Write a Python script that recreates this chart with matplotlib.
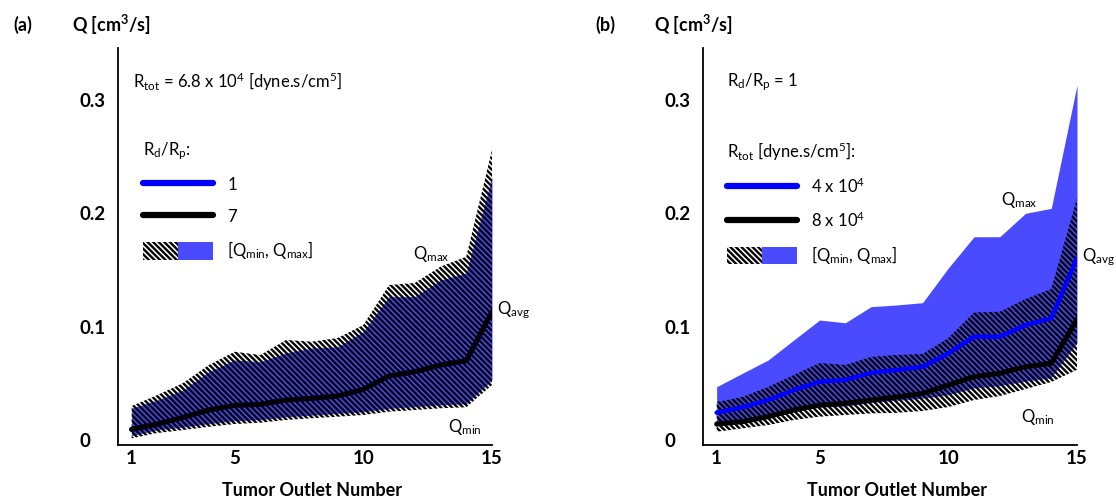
import matplotlib
matplotlib.use("Agg")
import matplotlib.pyplot as plt
from matplotlib.lines import Line2D
from matplotlib.patches import Patch
from matplotlib.legend_handler import HandlerTuple

plt.rcParams['font.family'] = ['Lato', 'DejaVu Sans']
plt.rcParams['mathtext.default'] = 'regular'
plt.rcParams['hatch.linewidth'] = 1.7

# ---------------- data ----------------
outlets = list(range(1, 16))
x_ticks = [1, 5, 10, 15]
y_ticks = [0, 0.1, 0.2, 0.3]
y_ticklabels = ['0', '0.1', '0.2', '0.3']

# panel (a): Rtot = 6.8e4, Rd/Rp = 1 (blue) and 7 (black, hatched)
a_avg = [0.0094, 0.0141, 0.0200, 0.0265, 0.0306, 0.0315, 0.0353, 0.0368,
         0.0388, 0.0447, 0.0565, 0.0603, 0.0662, 0.0700, 0.1132]
a_r1_max = [0.0282, 0.0353, 0.0441, 0.0603, 0.0706, 0.0691, 0.0768, 0.0812,
            0.0823, 0.0956, 0.1265, 0.1265, 0.1412, 0.1474, 0.2324]
a_r1_min = [0.0040, 0.0090, 0.0115, 0.0145, 0.0170, 0.0180, 0.0205, 0.0220,
            0.0235, 0.0250, 0.0280, 0.0295, 0.0310, 0.0320, 0.0530]
a_r7_max = [0.0300, 0.0397, 0.0503, 0.0662, 0.0779, 0.0750, 0.0883, 0.0868,
            0.0900, 0.1015, 0.1368, 0.1386, 0.1530, 0.1618, 0.2560]
a_r7_min = [0.0015, 0.0062, 0.0088, 0.0117, 0.0141, 0.0153, 0.0177, 0.0192,
            0.0206, 0.0221, 0.0250, 0.0265, 0.0280, 0.0289, 0.0485]

# panel (b): Rd/Rp = 1, Rtot = 4e4 (blue) and 8e4 (black, hatched)
b_avg4 = [0.0241, 0.0289, 0.0353, 0.0441, 0.0515, 0.0530, 0.0594, 0.0618,
          0.0647, 0.0765, 0.0912, 0.0912, 0.1015, 0.1074, 0.1606]
b_max4 = [0.0470, 0.0589, 0.0706, 0.0883, 0.1059, 0.1035, 0.1177, 0.1192,
          0.1212, 0.1518, 0.1794, 0.1794, 0.2001, 0.2045, 0.3133]
b_min4 = [0.0150, 0.0180, 0.0220, 0.0260, 0.0290, 0.0300, 0.0330, 0.0350,
          0.0370, 0.0400, 0.0460, 0.0480, 0.0520, 0.0550, 0.0860]
b_avg8 = [0.0141, 0.0162, 0.0206, 0.0265, 0.0309, 0.0324, 0.0353, 0.0380,
          0.0410, 0.0485, 0.0559, 0.0589, 0.0647, 0.0677, 0.1065]
b_max8 = [0.0335, 0.0380, 0.0468, 0.0574, 0.0680, 0.0662, 0.0733, 0.0751,
          0.0759, 0.0900, 0.1125, 0.1132, 0.1244, 0.1333, 0.2133]
b_min8 = [0.0073, 0.0103, 0.0132, 0.0177, 0.0206, 0.0221, 0.0235, 0.0240,
          0.0256, 0.0291, 0.0353, 0.0388, 0.0450, 0.0512, 0.0620]

# ---------------- style ----------------
BLUE_FILL = '#4a4aff'
BLUE_LINE = '#0000ff'
HATCH = '\\' * 6
W, H = 1116, 498
FS_TXT = 12
FS_TICK = 13.5

fig = plt.figure(figsize=(W / 100, H / 100), dpi=100)


def make_axes(left_px):
    ax_left = left_px / W
    ax_w = 374 / W
    ax_b = 1 - 445 / H
    ax_h = 397 / H
    return fig.add_axes([ax_left, ax_b, ax_w, ax_h])


def style_axes(ax):
    ax.set_xlim(0.47, 15.0)
    ax.set_ylim(-0.0044, 0.346)
    for s in ['top', 'right']:
        ax.spines[s].set_visible(False)
    for s in ['left', 'bottom']:
        ax.spines[s].set_linewidth(1.3)
    ax.set_xticks(x_ticks)
    ax.set_yticks(y_ticks)
    ax.set_yticklabels(y_ticklabels)
    ax.tick_params(axis='both', length=0, labelsize=FS_TICK)
    ax.tick_params(axis='y', pad=27.4)
    ax.tick_params(axis='x', pad=3.5)
    for lab in ax.get_yticklabels():
        lab.set_horizontalalignment('left')
        lab.set_fontweight('bold')
    for lab in ax.get_xticklabels():
        lab.set_fontweight('bold')
    ax.set_xlabel('Tumor Outlet Number', fontsize=13, fontweight='bold')
    ax.xaxis.set_label_coords(0.519, -0.092)
    ax.xaxis.label.set_verticalalignment('top')


def make_legend(ax, title, labels, x0):
    h_blue = Line2D([], [], color=BLUE_LINE, lw=4.5, solid_capstyle='round')
    h_black = Line2D([], [], color='black', lw=4.5, solid_capstyle='round')
    h_h = Patch(facecolor='none', edgecolor='black', hatch=HATCH, lw=0)
    h_b = Patch(facecolor=BLUE_FILL, edgecolor='none', lw=0)
    leg = ax.legend([h_blue, h_black, (h_h, h_b)], labels,
                    handler_map={tuple: HandlerTuple(ndivide=2, pad=0.0)},
                    title=title, title_fontsize=FS_TXT, fontsize=FS_TXT,
                    loc='upper left', bbox_to_anchor=(x0, 0.768),
                    frameon=False, borderpad=0, borderaxespad=0,
                    handlelength=4.2, handleheight=1.25, handletextpad=0.85,
                    labelspacing=0.85, alignment='left')
    return leg


# ---------------- panel (a) ----------------
axa = make_axes(118)
style_axes(axa)
axa.fill_between(outlets, a_r1_min, a_r1_max, color=BLUE_FILL, lw=0, zorder=1)
axa.fill_between(outlets, a_r7_min, a_r7_max, facecolor='none',
                 edgecolor='black', hatch=HATCH, lw=0, zorder=2)
axa.plot(outlets, a_avg, color=BLUE_LINE, lw=3.6, zorder=3,
         solid_capstyle='round', solid_joinstyle='round')
axa.plot(outlets, a_avg, color='black', lw=3.6, zorder=4,
         solid_capstyle='round', solid_joinstyle='round')
axa.text(0.04, 0.914, r'R$_{tot}$ = 6.8 x 10$^{4}$ [dyne.s/cm$^{5}$]',
         transform=axa.transAxes, fontsize=FS_TXT, ha='left', va='center')
make_legend(axa, r'R$_{d}$/R$_{p}$:', ['1', '7', r'[Q$_{min}$, Q$_{max}$]'], 0.067)
axa.text(12.62, 0.164, r'Q$_{max}$', fontsize=FS_TXT, ha='center', va='center')
axa.text(15.2, 0.115, r'Q$_{avg}$', fontsize=FS_TXT, ha='left', va='center')
axa.text(13.96, 0.0115, r'Q$_{min}$', fontsize=FS_TXT, ha='center', va='center')

# ---------------- panel (b) ----------------
axb = make_axes(703)
style_axes(axb)
axb.fill_between(outlets, b_min4, b_max4, color=BLUE_FILL, lw=0, zorder=1)
axb.fill_between(outlets, b_min8, b_max8, facecolor='none',
                 edgecolor='black', hatch=HATCH, lw=0, zorder=2)
axb.plot(outlets, b_avg4, color=BLUE_LINE, lw=3.2, zorder=3,
         solid_capstyle='round', solid_joinstyle='round')
axb.plot(outlets, b_avg8, color='black', lw=3.6, zorder=4,
         solid_capstyle='round', solid_joinstyle='round')
axb.text(0.064, 0.914, r'R$_{d}$/R$_{p}$ = 1',
         transform=axb.transAxes, fontsize=FS_TXT, ha='left', va='center')
make_legend(axb, r'R$_{tot}$ [dyne.s/cm$^{5}$]:',
            [r'4 x 10$^{4}$', r'8 x 10$^{4}$', r'[Q$_{min}$, Q$_{max}$]'], 0.064)
axb.text(12.74, 0.212, r'Q$_{max}$', fontsize=FS_TXT, ha='center', va='center')
axb.text(15.2, 0.1615, r'Q$_{avg}$', fontsize=FS_TXT, ha='left', va='center')
axb.text(13.48, 0.0203, r'Q$_{min}$', fontsize=FS_TXT, ha='center', va='center')

# ---------------- panel headers ----------------
fig.text(23 / W, 1 - 25 / H, '(a)', fontsize=13, fontweight='bold',
         ha='center', va='center')
fig.text(72 / W, 1 - 25 / H, r'Q [cm$^{3}$/s]', fontsize=13, fontweight='bold',
         ha='left', va='center')
fig.text(605 / W, 1 - 25 / H, '(b)', fontsize=13, fontweight='bold',
         ha='center', va='center')
fig.text(654 / W, 1 - 25 / H, r'Q [cm$^{3}$/s]', fontsize=13, fontweight='bold',
         ha='left', va='center')

fig.savefig('out.png', dpi=100)
